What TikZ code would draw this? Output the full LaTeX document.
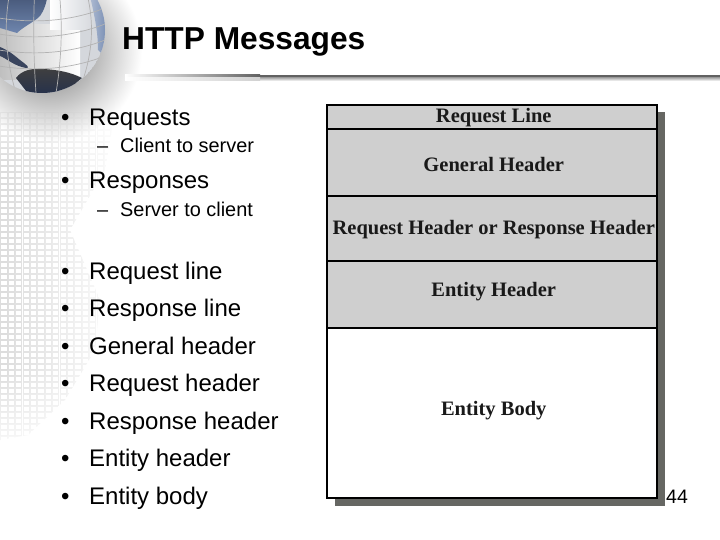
\documentclass[tikz,border=0pt]{standalone}
\usepackage{fontspec}
\setmainfont{Liberation Sans}
\newfontfamily\boxfont{Liberation Serif}
\definecolor{cellgrey}{HTML}{CFCFCF}
\definecolor{shadowgrey}{HTML}{666763}
\definecolor{globedark}{HTML}{24304C}
\definecolor{globeblue}{HTML}{6F86AE}
\definecolor{globesilver}{HTML}{D4D7DC}
\newcommand{\celltext}[2]{\hspace*{3.5pt}\raisebox{#1pt}[0pt][0pt]{#2}}
\tikzset{
  bul/.style={anchor=base west,font=\fontsize{24}{26}\selectfont,inner sep=0pt,text=black},
  subbul/.style={anchor=base west,font=\fontsize{19.9}{22}\selectfont,inner sep=0pt,text=black},
  cell/.style={draw=black,line width=1.8pt,fill=cellgrey,minimum width=330pt,inner sep=0pt,outer sep=0pt,anchor=north west,
    font=\boxfont\bfseries\fontsize{20.5}{24}\selectfont,text=black!90},
  gridsq/.style={draw=black!24,line width=.4pt},
  meridian/.style={draw=black!30,line width=.7pt}
}
\begin{document}
\begin{tikzpicture}[x=1pt,y=-1pt]
\useasboundingbox (0,0) rectangle (720,540);
\fill[white] (0,0) rectangle (720,540);
\clip (0,0) rectangle (720,540);
% soft shadow behind globe
\shade[inner color=black!55,outer color=white] (50,50) circle (92);
% wall of faint squares
\begin{scope}
\clip (0,112) -- (115,112) -- (105,170) -- (70,230) -- (100,300) -- (95,350) -- (65,400) -- (28,435) -- (0,440) -- cycle;
\foreach \r in {0,...,54}{
  \foreach \c in {0,...,15}{
    \pgfmathsetmacro{\op}{max(0.03,0.55*(1-\c/17)*min(1,(\r+6)/14)*min(1,(58-\r)/16))}
    \draw[gridsq,opacity=\op] (\c*7.4+0.5,112+\r*6+0.5) rectangle +(6.2,4.8);
  }
}
\end{scope}
% globe
\begin{scope}
\clip (42,30) circle (63);
\fill[globesilver] (42,30) circle (63);
\shade[left color=black!25,right color=white] (0,25) rectangle (80,80);
\shade[left color=white,right color=globesilver] (50,-35) rectangle (95,30);
\shade[top color=globedark,bottom color=globeblue] (-25,-35) -- (50,-35) .. controls (50,-5) and (45,12) .. (38,18) .. controls (30,24) and (22,28) .. (17,33) -- (0,28) -- (-25,30) -- cycle;
\shade[left color=globeblue!40,right color=globeblue] (82,-35) -- (110,-35) -- (110,62) -- (98,50) .. controls (98,30) and (94,10) .. cycle;
\fill[globedark!90] (0,47) .. controls (8,50) and (14,55) .. (20,60) .. controls (28,66) and (30,68) .. (26,68) .. controls (14,66) and (6,58) .. (0,56) -- cycle;
\shade[top color=black!75,bottom color=globedark] (16,78) .. controls (22,70) and (32,68) .. (44,69) .. controls (58,70) and (70,72) .. (82,78) -- (60,96) -- (30,96) -- cycle;
\foreach \k in {-46,-26,-6,14,36}{
  \draw[meridian] (42+\k,-33) .. controls (42+\k*1.5,10) and (42+\k*1.5,50) .. (42+\k,93);
}
\foreach \k in {0,16,32,48}{
  \draw[meridian] (-21,14+\k) .. controls (20,24+\k) and (64,24+\k) .. (105,8+\k);
}
\end{scope}
% title and rule
\node[anchor=base west,inner sep=0pt,font=\bfseries\fontsize{31.7}{34}\selectfont] (title) at (122,50) {HTTP Messages};
\shade[left color=white,right color=black!62] (125,75) rectangle (260,78);
\fill[black!62] (259.5,75) rectangle (720,78);
\shade[top color=black!30,bottom color=white] (259.5,78) rectangle (720,81);
\shade[left color=white,right color=black!18] (125,78) rectangle (260,81);
% bullets
\foreach \n/\y/\t in {a/126/Requests,b/189/Responses,c/279/Request line,d/316.5/Response line,e/354/General header,f/391.5/Request header,g/429/Response header,h/466/Entity header,i/504/Entity body}{
  \node[bul] (dot\n) at (61,\y) {•};
  \node[bul] (\n) at (89,\y) {\t};
}
\node[subbul] (d1) at (97,153) {–};
\node[subbul] (s1) at (120,153) {Client to server};
\node[subbul] (d2) at (97,216) {–};
\node[subbul] (s2) at (120,216) {Server to client};
% message format box
\fill[shadowgrey] (335,112) rectangle (665,506);
\node[cell,minimum height=24pt] (rl) at (327,105) {\celltext{-5.8}{Request Line}};
\node[cell,minimum height=67pt] (gh) at (327,129) {\celltext{-9.3}{General Header}};
\node[cell,minimum height=65pt] (rh) at (327,196) {\celltext{-6.3}{Request Header or Response Header}};
\node[cell,minimum height=67pt] (eh) at (327,261) {\celltext{-2.3}{Entity Header}};
\node[cell,fill=white,minimum height=170pt] (eb) at (327,328) {\celltext{-2.3}{Entity Body}};
\node[anchor=base west,inner sep=0pt,font=\fontsize{19.5}{22}\selectfont] (pg) at (666,503) {44};
\end{tikzpicture}
\end{document}
